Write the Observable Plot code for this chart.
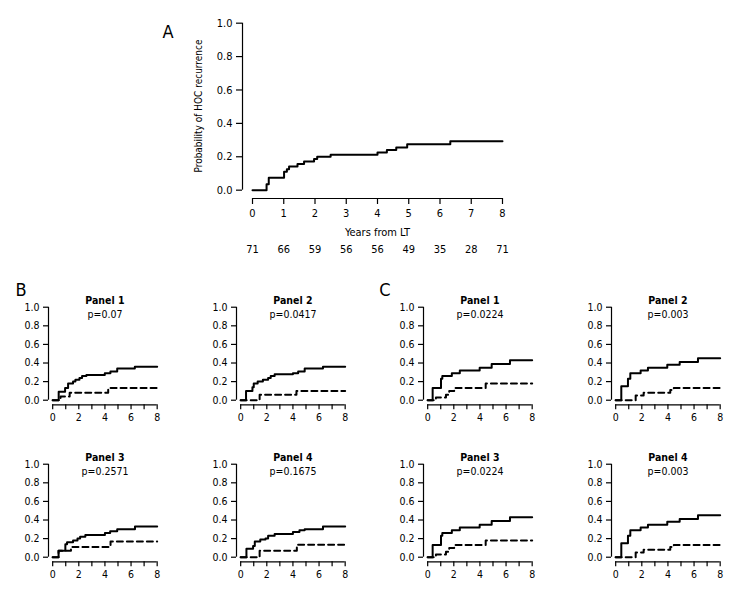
<!DOCTYPE html>
<html>
<head>
<meta charset="utf-8">
<script src="https://cdn.jsdelivr.net/npm/d3@7"></script>
<script src="https://cdn.jsdelivr.net/npm/@observablehq/plot@0.6"></script>
<style>
  html, body { margin: 0; padding: 0; background: #fff; }
  #root { position: relative; width: 756px; height: 600px; overflow: hidden;
          font-family: "DejaVu Sans Condensed", "Liberation Sans", sans-serif; color: #000; }
  #root svg { position: absolute; }
  .letter { position: absolute; font-size: 18px; line-height: 1; transform: translate(-50%, -50%); }
</style>
</head>
<body>
<div id="root"></div>
<script>
// ---------- DATA ----------
// Panel A: overall cumulative probability of HOC recurrence
const aTime = [0, 0.45, 0.52, 1.01, 1.1, 1.17, 1.44, 1.65, 1.97, 2.07, 2.5, 4.0, 4.3, 4.6, 4.95, 6.33, 8];
const aProb = [0, 0.035, 0.075, 0.11, 0.126, 0.142, 0.156, 0.172, 0.186, 0.2, 0.212, 0.225, 0.24, 0.255, 0.275, 0.293, 0.293];
const aYears = [0, 1, 2, 3, 4, 5, 6, 7, 8];
const aAtRisk = [71, 66, 59, 56, 56, 49, 35, 28, 71];
const yTicks = [0, 0.2, 0.4, 0.6, 0.8, 1.0];
const smallXTicks = [0, 1, 2, 3, 4, 5, 6, 7, 8];

// Panel B
const b1SolidT = [0, 0.46, 0.95, 1.18, 1.56, 1.74, 2.05, 2.25, 2.58, 3.99, 4.42, 4.94, 6.29, 8];
const b1SolidP = [0, 0.09, 0.13, 0.18, 0.2, 0.22, 0.24, 0.26, 0.27, 0.29, 0.31, 0.34, 0.36, 0.36];
const b1DashT = [0, 0.6, 1.3, 4.25, 8];
const b1DashP = [0, 0.04, 0.08, 0.13, 0.13];

const b2SolidT = [0, 0.41, 0.9, 1.0, 1.3, 1.7, 2.1, 2.3, 2.6, 4.0, 4.4, 4.9, 6.3, 8];
const b2SolidP = [0, 0.1, 0.14, 0.18, 0.2, 0.22, 0.24, 0.26, 0.28, 0.29, 0.31, 0.34, 0.36, 0.36];
const b2DashT = [0, 1.45, 4.27, 8];
const b2DashP = [0, 0.06, 0.1, 0.1];

const b3SolidT = [0, 0.45, 0.97, 1.1, 1.56, 1.9, 2.1, 2.5, 4.0, 4.4, 4.94, 6.3, 8];
const b3SolidP = [0, 0.07, 0.14, 0.16, 0.18, 0.2, 0.22, 0.24, 0.26, 0.28, 0.3, 0.33, 0.33];
const b3DashT = [0, 0.45, 1.4, 4.43, 8];
const b3DashP = [0, 0.07, 0.11, 0.17, 0.17];

const b4SolidT = [0, 0.44, 0.95, 1.08, 1.5, 1.9, 2.1, 2.6, 4.0, 4.5, 4.9, 6.3, 8];
const b4SolidP = [0, 0.09, 0.12, 0.17, 0.19, 0.2, 0.23, 0.25, 0.27, 0.29, 0.3, 0.33, 0.33];
const b4DashT = [0, 1.45, 4.3, 8];
const b4DashP = [0, 0.07, 0.135, 0.135];

// Panel C
const c1SolidT = [0, 0.38, 1.02, 1.12, 1.85, 2.46, 3.98, 4.9, 6.3, 8];
const c1SolidP = [0, 0.13, 0.23, 0.26, 0.29, 0.32, 0.35, 0.39, 0.43, 0.43];
const c1DashT = [0, 0.63, 1.4, 1.65, 2.03, 4.44, 8];
const c1DashP = [0, 0.03, 0.06, 0.1, 0.13, 0.18, 0.18];

const c2SolidT = [0, 0.43, 0.94, 1.12, 1.91, 2.47, 3.95, 4.9, 6.3, 8];
const c2SolidP = [0, 0.15, 0.23, 0.29, 0.32, 0.35, 0.38, 0.41, 0.45, 0.45];
const c2DashT = [0, 1.53, 2.14, 4.18, 4.45, 8];
const c2DashP = [0, 0.05, 0.08, 0.11, 0.13, 0.13];

const c3SolidT = [0, 0.38, 1.02, 1.12, 1.85, 2.46, 3.98, 4.9, 6.3, 8];
const c3SolidP = [0, 0.13, 0.23, 0.26, 0.29, 0.32, 0.35, 0.39, 0.43, 0.43];
const c3DashT = [0, 0.63, 1.4, 1.65, 2.03, 4.44, 8];
const c3DashP = [0, 0.03, 0.06, 0.1, 0.13, 0.18, 0.18];

const c4SolidT = [0, 0.43, 0.94, 1.12, 1.91, 2.47, 3.95, 4.9, 6.3, 8];
const c4SolidP = [0, 0.15, 0.23, 0.29, 0.32, 0.35, 0.38, 0.41, 0.45, 0.45];
const c4DashT = [0, 1.53, 2.14, 4.18, 4.45, 8];
const c4DashP = [0, 0.05, 0.08, 0.11, 0.13, 0.13];

const panelTitles = ["Panel 1", "Panel 2", "Panel 3", "Panel 4"];
const bPValues = ["p=0.07", "p=0.0417", "p=0.2571", "p=0.1675"];
const cPValues = ["p=0.0224", "p=0.003", "p=0.0224", "p=0.003"];

// ---------- HELPERS ----------
const zip = (T, P) => T.map((t, i) => ({t, p: P[i]}));
const root = document.getElementById("root");
const FONT = '"DejaVu Sans Condensed", "Liberation Sans", sans-serif';
const XPAD = 0.32, YPADB = 0.05, YPADT = 0.04;

function place(chart, left, top) {
  chart.style.left = left + "px";
  chart.style.top = top + "px";
  root.appendChild(chart);
}

function frameOf(g) {
  const kx = (g.x8 - g.x0) / 8, ky = g.y0 - g.y1;
  return {fl: g.x0 - XPAD * kx, fr: g.x8 + XPAD * kx, fb: g.y0 + YPADB * ky, ft: g.y1 - YPADT * ky};
}

function smallPanel(g, solid, dashed, title, pval) {
  const f = frameOf(g);
  const mL = 48, mR = 10, mT = 20, mB = 30;
  const chart = Plot.plot({
    width: f.fr - f.fl + mL + mR,
    height: f.fb - f.ft + mT + mB,
    marginLeft: mL, marginRight: mR, marginTop: mT, marginBottom: mB,
    style: {fontFamily: FONT, fontSize: "10.5px", color: "#000", background: "transparent", overflow: "visible"},
    x: {domain: [-XPAD, 8 + XPAD]},
    y: {domain: [-YPADB, 1 + YPADT]},
    marks: [
      Plot.ruleX([-XPAD], {y1: 0, y2: 1, stroke: "#000", strokeWidth: 1.2}),
      Plot.ruleY([-YPADB], {x1: 0, x2: 8, stroke: "#000", strokeWidth: 1.2}),
      Plot.axisY({ticks: yTicks, tickFormat: d3.format(".1f"), tickSize: 5, tickPadding: 4, label: null, strokeWidth: 1.2}),
      Plot.axisX({ticks: smallXTicks, tickFormat: d => (d % 2 === 0 ? d : ""), tickSize: 5, tickPadding: 4, label: null, strokeWidth: 1.2}),
      Plot.line(zip(dashed[0], dashed[1]), {x: "t", y: "p", curve: "step-after", stroke: "#000", strokeWidth: 2, strokeDasharray: "6,4"}),
      Plot.line(zip(solid[0], solid[1]), {x: "t", y: "p", curve: "step-after", stroke: "#000", strokeWidth: 2}),
      Plot.text([title], {frameAnchor: "top", dy: -2.5, fontWeight: "bold", lineAnchor: "middle", fontSize: 10.5}),
      Plot.text([pval], {frameAnchor: "top", dy: 11, lineAnchor: "middle", fontSize: 10.5})
    ]
  });
  place(chart, f.fl - mL, f.ft - mT);
}

// ---------- PANEL A ----------
(function () {
  const g = {x0: 252, x8: 502, y0: 189.3, y1: 22.3};
  const f = frameOf(g);
  const mL = 60, mR = 10, mT = 10, mB = 70;
  const chart = Plot.plot({
    width: f.fr - f.fl + mL + mR,
    height: f.fb - f.ft + mT + mB,
    marginLeft: mL, marginRight: mR, marginTop: mT, marginBottom: mB,
    style: {fontFamily: FONT, fontSize: "11px", color: "#000", background: "transparent", overflow: "visible"},
    x: {domain: [-XPAD, 8 + XPAD]},
    y: {domain: [-YPADB, 1 + YPADT]},
    marks: [
      Plot.ruleX([-XPAD], {y1: 0, y2: 1, stroke: "#000", strokeWidth: 1.2}),
      Plot.ruleY([-YPADB], {x1: 0, x2: 8, stroke: "#000", strokeWidth: 1.2}),
      Plot.axisY({ticks: yTicks, tickFormat: d3.format(".1f"), tickSize: 6, tickPadding: 4, label: null, strokeWidth: 1.2}),
      Plot.axisX({ticks: aYears, tickFormat: d => d, tickSize: 6, tickPadding: 5, label: null, strokeWidth: 1.2}),
      Plot.text(["Probability of HOC recurrence"], {frameAnchor: "left", rotate: -90, dx: -44, dy: -1.5, lineAnchor: "middle", textAnchor: "middle", fontSize: 10}),
      Plot.text(["Years from LT"], {frameAnchor: "bottom", dy: 34, lineAnchor: "middle", fontSize: 11}),
      Plot.text(aAtRisk, {x: (d, i) => aYears[i], text: d => d, frameAnchor: "bottom", dy: 51, lineAnchor: "middle", fontSize: 11}),
      Plot.line(zip(aTime, aProb), {x: "t", y: "p", curve: "step-after", stroke: "#000", strokeWidth: 2})
    ]
  });
  place(chart, f.fl - mL, f.ft - mT);
})();

// ---------- PANELS B & C ----------
const colX0 = [52.3, 240.5, 426.7, 615.3];
const rowY = [{y0: 399.5, y1: 306.5}, {y0: 557, y1: 464}];
const geo = (c, r) => ({x0: colX0[c], x8: colX0[c] + 104.5, y0: rowY[r].y0, y1: rowY[r].y1});

smallPanel(geo(0, 0), [b1SolidT, b1SolidP], [b1DashT, b1DashP], panelTitles[0], bPValues[0]);
smallPanel(geo(1, 0), [b2SolidT, b2SolidP], [b2DashT, b2DashP], panelTitles[1], bPValues[1]);
smallPanel(geo(0, 1), [b3SolidT, b3SolidP], [b3DashT, b3DashP], panelTitles[2], bPValues[2]);
smallPanel(geo(1, 1), [b4SolidT, b4SolidP], [b4DashT, b4DashP], panelTitles[3], bPValues[3]);
smallPanel(geo(2, 0), [c1SolidT, c1SolidP], [c1DashT, c1DashP], panelTitles[0], cPValues[0]);
smallPanel(geo(3, 0), [c2SolidT, c2SolidP], [c2DashT, c2DashP], panelTitles[1], cPValues[1]);
smallPanel(geo(2, 1), [c3SolidT, c3SolidP], [c3DashT, c3DashP], panelTitles[2], cPValues[2]);
smallPanel(geo(3, 1), [c4SolidT, c4SolidP], [c4DashT, c4DashP], panelTitles[3], cPValues[3]);

// ---------- PANEL LETTERS ----------
[["A", 168, 32], ["B", 21, 290], ["C", 385, 290]].forEach(([t, x, y]) => {
  const s = document.createElement("div");
  s.className = "letter";
  s.textContent = t;
  s.style.left = x + "px";
  s.style.top = y + "px";
  root.appendChild(s);
});
</script>
</body>
</html>
